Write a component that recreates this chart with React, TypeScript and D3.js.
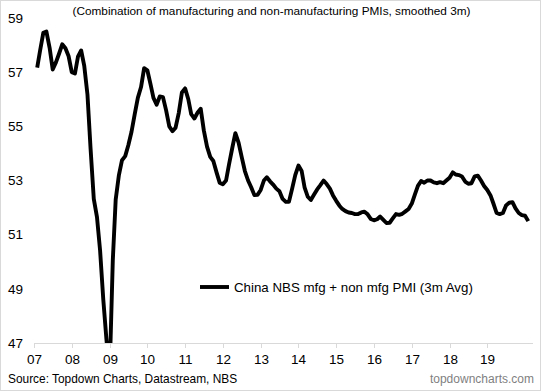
import React from "react";
import * as d3 from "d3";

const START = new Date(2007, 1, 1);
const values: number[] = [
  57.17, 57.8, 58.45, 58.5, 57.9, 57.1, 57.36, 57.69, 58.03, 57.88,
  57.6, 57.0, 56.95, 57.57, 57.8, 57.23, 56.17, 54.18, 52.32, 51.65,
  50.42, 48.6, 47.15, 45.8, 50.06, 52.3, 53.2, 53.75, 53.9, 54.3,
  54.8, 55.45, 56.05, 56.45, 57.15, 57.07, 56.55, 56.05, 55.8, 56.1,
  56.08, 55.6, 55.0, 54.82, 54.95, 55.5, 56.25, 56.4, 56.0, 55.45,
  55.29, 55.5, 55.65, 54.85, 54.25, 53.87, 53.72, 53.3, 52.92, 52.86,
  53.0, 53.6, 54.2, 54.75, 54.4, 53.87, 53.35, 53.0, 52.75, 52.46,
  52.47, 52.65, 53.0, 53.12, 52.97, 52.85, 52.7, 52.6, 52.32, 52.21,
  52.21, 52.7, 53.2, 53.55, 53.35, 52.75, 52.4, 52.28, 52.48, 52.67,
  52.83, 53.0, 52.87, 52.7, 52.45, 52.25, 52.07, 51.95, 51.87, 51.82,
  51.8, 51.76, 51.76, 51.82, 51.85, 51.75, 51.58, 51.53, 51.57, 51.67,
  51.55, 51.43, 51.44, 51.6, 51.76, 51.73, 51.77, 51.86, 51.95, 52.15,
  52.5, 52.8, 52.98, 52.92, 53.0, 53.0, 52.93, 52.9, 52.94, 52.9,
  53.0, 53.1, 53.3, 53.22, 53.2, 53.15, 52.96, 52.88, 52.9, 53.15,
  53.18, 53.0, 52.8, 52.65, 52.45, 52.15, 51.8, 51.76, 51.8, 52.08,
  52.18, 52.2, 51.97, 51.8, 51.72, 51.7, 51.5,
];
const dates: Date[] = values.map((_, i) => d3.timeMonth.offset(START, i));
const yTicks = [47, 49, 51, 53, 55, 57, 59];
const xTickYears = [2007, 2008, 2009, 2010, 2011, 2012, 2013, 2014, 2015, 2016, 2017, 2018, 2019];
const xTickLabels = ["07", "08", "09", "10", "11", "12", "13", "14", "15", "16", "17", "18", "19"];
const seriesName = "China NBS mfg + non mfg PMI (3m Avg)";
const title = "(Combination of manufacturing and non-manufacturing PMIs, smoothed 3m)";
const source = "Source: Topdown Charts, Datastream, NBS";
const site = "topdowncharts.com";

export default function App() {
  const W = 541, H = 391;
  const x = d3.scaleTime().domain([new Date(2007, 0, 1), new Date(2019, 0, 1)]).range([34, 487.3]);
  const y = d3.scaleLinear().domain([47, 59]).range([343, 18]);
  const line = d3.line<number>().x((_, i) => x(dates[i])).y((d) => y(d));
  const font = "'Liberation Sans', Arial, sans-serif";
  const axisRight = 533;
  return (
    <svg width={W} height={H} style={{ position: "fixed", left: 0, top: 0, background: "#fff" }} fontFamily={font}>
      <rect x={0.5} y={0.5} width={W - 1} height={H - 1} fill="#fff" stroke="#d9d9d9" />
      <defs>
        <clipPath id="plotclip">
          <rect x={0} y={0} width={W} height={y(47)} />
        </clipPath>
      </defs>
      <text x={271.5} y={15} fontSize={11.8} textAnchor="middle" fill="#000">{title}</text>
      {yTicks.map((t) => (
        <text key={t} x={23} y={y(t)} dy="0.35em" fontSize={13.5} textAnchor="end" fill="#000">{t}</text>
      ))}
      <line x1={34} x2={axisRight} y1={y(47) + 0.5} y2={y(47) + 0.5} stroke="#d9d9d9" />
      {xTickYears.map((yr, i) => {
        const px = Math.round(x(new Date(yr, 0, 1))) + 0.5;
        return (
          <g key={yr}>
            <line x1={px} x2={px} y1={y(47)} y2={y(47) + 5} stroke="#d9d9d9" />
            <text x={px} y={359} dy="0.35em" fontSize={13.5} textAnchor="middle" fill="#000">{xTickLabels[i]}</text>
          </g>
        );
      })}
      <path d={line(values) || ""} fill="none" stroke="#000" strokeWidth={3.9} strokeLinejoin="round" clipPath="url(#plotclip)" />
      <line x1={200} x2={229} y1={287} y2={287} stroke="#000" strokeWidth={3.9} />
      <text x={234} y={287} dy="0.35em" fontSize={13.3} fill="#000">{seriesName}</text>
      <text x={8} y={379} dy="0.35em" fontSize={11.9} fill="#000">{source}</text>
      <text x={534} y={379} dy="0.35em" fontSize={12} textAnchor="end" fill="#7f7f7f">{site}</text>
    </svg>
  );
}
